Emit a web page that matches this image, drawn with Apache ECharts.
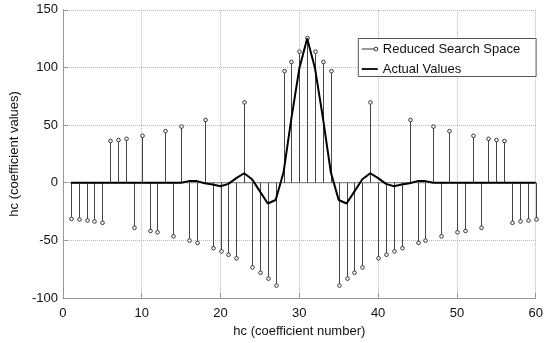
<!DOCTYPE html>
<html>
<head>
<meta charset="utf-8">
<script src="https://cdn.jsdelivr.net/npm/echarts@6/dist/echarts.min.js"></script>
<style>html,body{margin:0;padding:0;background:#fff}#c{width:546px;height:343px}</style>
</head>
<body>
<div id="c"></div>
<script>
// coefficient numbers
const coefNumbers = [1,2,3,4,5,6,7,8,9,10,11,12,13,14,15,16,17,18,19,20,21,22,23,24,25,26,27,28,29,30,
  31,32,33,34,35,36,37,38,39,40,41,42,43,44,45,46,47,48,49,50,51,52,53,54,55,56,57,58,59,60];
// Reduced Search Space (stem values)
const reducedValues = [-31.4,-31.9,-32.8,-33.6,-34.8,36.2,37.0,38.1,-39.1,40.7,-41.9,-43.0,44.7,-46.5,48.7,
  -50.2,-52.2,54.4,-56.8,-59.6,-62.5,-65.6,69.7,-73.5,-78.1,-83.2,-89.2,96.8,104.8,113.7,
  125.5,113.7,104.8,96.8,-89.2,-83.2,-78.1,-73.5,69.7,-65.6,-62.5,-59.6,-56.8,54.4,-52.2,
  -50.2,48.7,-46.5,44.7,-43.0,-41.9,40.7,-39.1,38.1,37.0,36.2,-34.8,-33.6,-32.8,-31.9];
// Actual Values (line)
const actualValues = [0,0,0,0,0,0,0,0,0,0,0,0,0,0,0,1.4,1.4,-0.5,-1.5,-3.0,
  -1.0,4.0,8.2,3.0,-7.5,-18.0,-15.0,9.0,56.0,99.0,
  125.0,99.0,56.0,9.0,-15.0,-18.0,-7.5,3.0,8.2,4.0,
  -1.0,-3.0,-1.5,-0.5,1.4,1.4,0,0,0,0,0,0,0,0,0,0,0,0,0,0];
const xTicks = {min:0, max:60, interval:10};
const yTicks = {min:-100, max:150, interval:50};

const stemData = coefNumbers.map((x,i)=>[x, reducedValues[i]]);
const lineData = coefNumbers.map((x,i)=>[x, actualValues[i]]);
const baseData = [[coefNumbers[0],0],[coefNumbers[coefNumbers.length-1],0]];

const FONT = 'Liberation Sans, Arial, Helvetica, sans-serif';
const chart = echarts.init(document.getElementById('c'), null, {renderer:'canvas'});
chart.setOption({
  animation:false,
  backgroundColor:'#fff',
  grid:{left:58.7, right:10.3, top:9.8, bottom:40.7, containLabel:false},
  xAxis:{
    type:'value', min:xTicks.min, max:xTicks.max, interval:xTicks.interval,
    name:'hc (coefficient number)', nameLocation:'middle', nameGap:27,
    nameTextStyle:{fontFamily:FONT, fontSize:13, color:'#111'},
    axisLine:{show:true, onZero:false, lineStyle:{color:'#999', width:1}},
    axisTick:{show:true, inside:true, length:5, lineStyle:{color:'#999'}},
    axisLabel:{fontFamily:FONT, fontSize:13, color:'#111', margin:9},
    splitLine:{show:true, lineStyle:{type:'dotted', color:'#b5b5b5', width:1}}
  },
  yAxis:{
    type:'value', min:yTicks.min, max:yTicks.max, interval:yTicks.interval,
    name:'hc (coefficient values)', nameLocation:'middle', nameGap:27,
    nameTextStyle:{fontFamily:FONT, fontSize:13, color:'#111'},
    axisLine:{show:true, onZero:false, lineStyle:{color:'#999', width:1}},
    axisTick:{show:true, inside:true, length:5, lineStyle:{color:'#999'}},
    axisLabel:{fontFamily:FONT, fontSize:13, color:'#111', margin:5},
    splitLine:{show:true, lineStyle:{type:'dotted', color:'#b5b5b5', width:1}}
  },
  legend:{
    orient:'vertical', left:358.3, top:38.5,
    padding:[4,16,1,3], itemGap:7, itemWidth:16, itemHeight:14,
    borderColor:'#555', borderWidth:1, backgroundColor:'#fff',
    textStyle:{fontFamily:FONT, fontSize:13, color:'#111'},
    data:[
      {name:'Reduced Search Space', icon:'path://M0,7 L13,7 M17,7 A2,2 0 1 1 17,6.99',
        itemStyle:{color:'transparent', borderColor:'#333', borderWidth:1}},
      {name:'Actual Values', icon:'path://M0,0 L18,0 L18,2 L0,2 Z',
        itemStyle:{color:'#000', borderWidth:0}}
    ]
  },
  series:[
    {
      type:'line', name:'baseline', data:baseData, symbol:'none', silent:true,
      lineStyle:{color:'#777', width:1}, z:1
    },
    {
      type:'custom', name:'Reduced Search Space', data:stemData, z:2,
      itemStyle:{color:'#333'},
      renderItem:function(params, api){
        const x = api.value(0), y = api.value(1);
        const p0 = api.coord([x,0]), p1 = api.coord([x,y]);
        const px = Math.round(p0[0]) + 0.5;
        return {type:'group', children:[
          {type:'line', shape:{x1:px, y1:p0[1], x2:px, y2:p1[1]}, style:{stroke:'#444', lineWidth:1}},
          {type:'circle', shape:{cx:px, cy:p1[1], r:1.8}, style:{fill:'#fff', stroke:'#333', lineWidth:1}}
        ]};
      }
    },
    {
      type:'line', name:'Actual Values', data:lineData, symbol:'none', z:3,
      itemStyle:{color:'#000'},
      lineStyle:{color:'#000', width:2}
    }
  ]
});
</script>
</body>
</html>
